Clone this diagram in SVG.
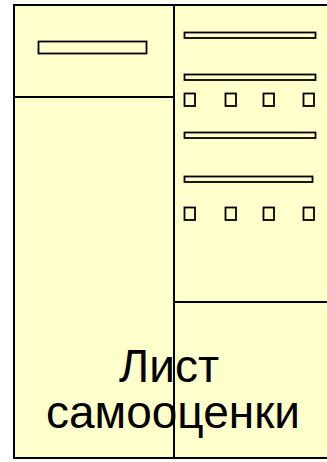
<svg xmlns="http://www.w3.org/2000/svg" width="327" height="462" viewBox="0 0 327 462">
<style>
.frame{fill:#FFFFCC;stroke:#000;stroke-width:2}
.div{stroke:#000;stroke-width:2;fill:none}
.bar{fill:#FFFFCC;stroke:#000;stroke-width:1.8}
.t{font-family:"Liberation Sans",Arial,sans-serif;font-size:46px;fill:#000;text-anchor:middle}
</style>
<rect width="327" height="462" fill="#FFFFFF"/>
<g id="sheet">
<rect class="frame" x="14" y="5" width="330" height="453"/>
</g>
<g id="connectors">
<line class="div" x1="174" y1="5" x2="174" y2="458"/>
<line class="div" x1="14" y1="97" x2="174" y2="97"/>
<line class="div" x1="174" y1="302" x2="327" y2="302"/>
</g>
<g id="left-field">
<rect class="bar" x="38.5" y="41.5" width="108" height="12"/>
</g>
<g id="right-fields">
<rect class="bar" x="184.5" y="32.5" width="131" height="5.5"/>
<rect class="bar" x="184.5" y="74.5" width="131" height="5.5"/>
<rect class="bar" x="184.5" y="132.5" width="131" height="5.5"/>
<rect class="bar" x="184.5" y="176.5" width="128" height="5.5"/>
</g>
<g id="checkboxes">
<rect class="bar" x="184.5" y="93.5" width="10.5" height="12.5"/>
<rect class="bar" x="225.5" y="93.5" width="10.5" height="12.5"/>
<rect class="bar" x="263.5" y="93.5" width="10.5" height="12.5"/>
<rect class="bar" x="303.5" y="93.5" width="10.5" height="12.5"/>
<rect class="bar" x="184.5" y="207.5" width="10.5" height="12.5"/>
<rect class="bar" x="225.5" y="207.5" width="10.5" height="12.5"/>
<rect class="bar" x="263.5" y="207.5" width="10.5" height="12.5"/>
<rect class="bar" x="303.5" y="207.5" width="10.5" height="12.5"/>
</g>
<g id="title">
<text class="t" x="169" y="382">Лист</text>
<text class="t" x="173" y="428">самооценки</text>
</g>
</svg>
